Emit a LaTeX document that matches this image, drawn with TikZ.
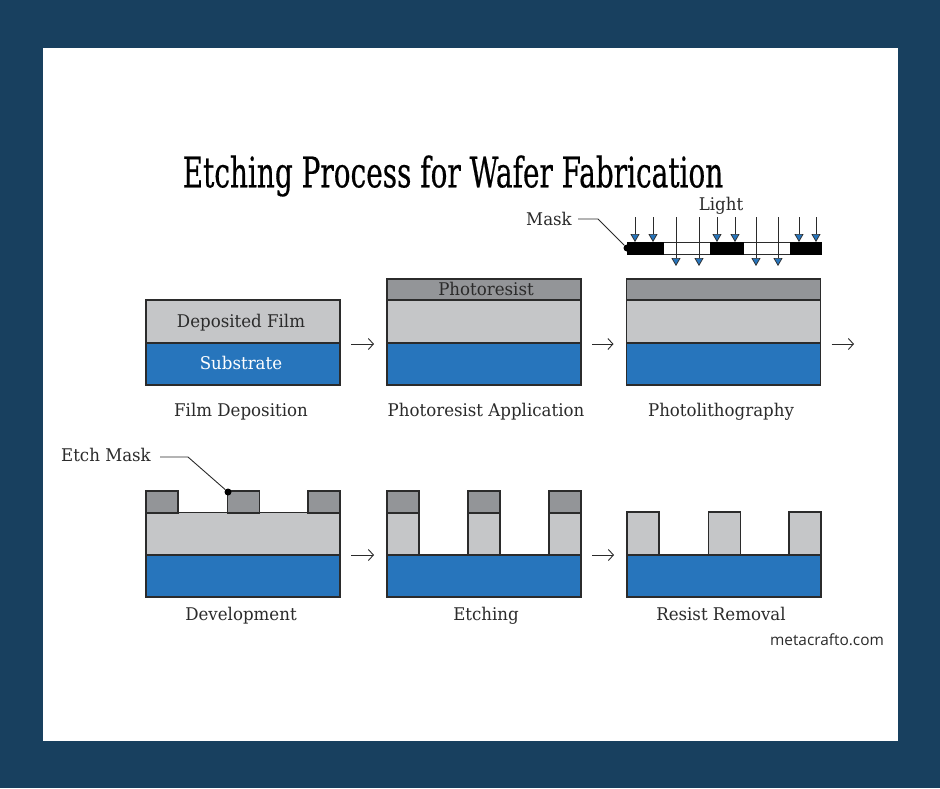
\documentclass[tikz,border=0pt]{standalone}
\usepackage{fontspec}
\setmainfont[FakeStretch=.95]{DejaVu Serif}
\newfontfamily\titlefont[FakeStretch=.665,FakeBold=.4]{DejaVu Serif}
\newfontfamily\webfont{Open Sans}
\usetikzlibrary{arrows.meta}
\definecolor{framenavy}{HTML}{18405F}
\definecolor{subblue}{HTML}{2775BC}
\definecolor{filmgrey}{HTML}{C5C6C8}
\definecolor{resistgrey}{HTML}{939598}
\definecolor{inkgrey}{HTML}{2B2B2B}
\tikzset{
	layerbox/.style={draw=inkgrey, line width=1.1pt, inner sep=0, outer sep=0, text=inkgrey, text height=13pt, text depth=2pt, font=\fontsize{17.5}{20}\selectfont},
	subbox/.style={layerbox, fill=subblue, minimum width=194, minimum height=42, text=white},
	filmbox/.style={layerbox, fill=filmgrey, minimum width=194, minimum height=43},
	resistbox/.style={layerbox, fill=resistgrey, minimum width=194, minimum height=21},
	resistcap/.style={layerbox, fill=resistgrey, minimum width=32, minimum height=22},
	filmpost/.style={layerbox, fill=filmgrey, minimum width=32, minimum height=43},
	maskbar/.style={draw=black, fill=black, inner sep=0, outer sep=0, minimum height=12},
	maskgap/.style={draw=inkgrey, line width=.8pt, fill=white, inner sep=0, outer sep=0, minimum height=12},
	steplabel/.style={text=inkgrey, text height=13pt, text depth=2pt, font=\fontsize{17.5}{20}\selectfont},
	nextarrow/.style={draw=inkgrey, line width=.9pt, -{Straight Barb[length=5pt, width=11pt]}, shorten <=11pt, shorten >=13pt},
	lightarrow/.style={draw=inkgrey, line width=.9pt, -{Triangle[length=8pt, width=9pt, line width=.7pt, fill=subblue]}},
	leader/.style={draw=inkgrey, line width=.9pt},
	leaderdot/.style={circle, fill=black, inner sep=0, minimum size=7},
}
\begin{document}
\begin{tikzpicture}[x=1pt, y=-1pt]
	\useasboundingbox (0, 0) rectangle (940, 788);
	\fill[framenavy] (0, 0) rectangle (940, 788);
	\fill[white] (43, 48) rectangle (898, 741);

	\node[text=black, font=\titlefont\fontsize{42}{48}\selectfont] (title) at(453, 176){Etching Process for Wafer Fabrication};

	% top row
	\node[filmbox] (filmA) at(243, 321.5){\kern-4pt Deposited Film};
	\node[subbox] (subA) at(243, 364){\kern-4pt Substrate};
	\node[steplabel] (labelA) at(241, 411){Film Deposition};

	\node[resistbox] (resistB) at(484, 289.5){\kern4pt Photoresist};
	\node[filmbox] (filmB) at(484, 321.5){};
	\node[subbox] (subB) at(484, 364){};
	\node[steplabel] (labelB) at(486, 411){Photoresist Application};

	\node[resistbox] (resistC) at(723.5, 289.5){};
	\node[filmbox] (filmC) at(723.5, 321.5){};
	\node[subbox] (subC) at(723.5, 364){};
	\node[steplabel] (labelC) at(721, 411){Photolithography};

	\coordinate (nextA) at(243, 344);
	\coordinate (nextB) at(484, 344);
	\coordinate (nextC) at(723.5, 344);
	\coordinate (outC) at(867, 344);
	\draw[nextarrow] (nextA -| subA.east) to (nextB -| subB.west);
	\draw[nextarrow] (nextB -| subB.east) to (nextC -| subC.west);
	\draw[nextarrow] (nextC -| subC.east) to (outC);

	% mask
	\node[maskgap, minimum width=47] (gapA) at(686.5, 248){};
	\node[maskgap, minimum width=47] (gapB) at(766.5, 248){};
	\node[maskbar, minimum width=36] (barA) at(645, 248){};
	\node[maskbar, minimum width=33] (barB) at(726.5, 248){};
	\node[maskbar, minimum width=31] (barC) at(805.5, 248){};
	\node[leaderdot] (maskdot) at(627, 248){};
	\node[steplabel] (masktext) at(549, 220){Mask};
	\node[steplabel] (lighttext) at(721, 205){Light};

	\coordinate (maskA) at(578, 219);
	\coordinate (maskB) at(598, 219);
	\draw[leader] (maskA) -- (maskB) -- (maskdot);

	\coordinate (rayA) at(635, 217);
	\coordinate (rayB) at(653, 217);
	\coordinate (rayC) at(676, 217);
	\coordinate (rayD) at(699, 217);
	\coordinate (rayE) at(717, 217);
	\coordinate (rayF) at(735, 217);
	\coordinate (rayG) at(756, 217);
	\coordinate (rayH) at(778, 217);
	\coordinate (rayI) at(799, 217);
	\coordinate (rayJ) at(816, 217);
	\coordinate (rayend) at(700, 266);
	\draw[lightarrow] (rayA) to (rayA |- barA.north);
	\draw[lightarrow] (rayB) to (rayB |- barA.north);
	\draw[lightarrow] (rayC) to (rayC |- rayend);
	\draw[lightarrow] (rayD) to (rayD |- rayend);
	\draw[lightarrow] (rayE) to (rayE |- barB.north);
	\draw[lightarrow] (rayF) to (rayF |- barB.north);
	\draw[lightarrow] (rayG) to (rayG |- rayend);
	\draw[lightarrow] (rayH) to (rayH |- rayend);
	\draw[lightarrow] (rayI) to (rayI |- barC.north);
	\draw[lightarrow] (rayJ) to (rayJ |- barC.north);

	% bottom row
	\node[filmbox] (filmD) at(243, 534){};
	\node[subbox] (subD) at(243, 576){};
	\node[resistcap] (capDa) at(162, 502){};
	\node[resistcap] (capDb) at(243.5, 502){};
	\node[resistcap] (capDc) at(324, 502){};
	\node[steplabel] (labelD) at(241, 615){Development};
	\node[leaderdot] (etchdot) at(228, 492){};
	\node[steplabel] (etchtext) at(106, 456){Etch Mask};
	\coordinate (etchA) at(160, 457);
	\coordinate (etchB) at(188, 457);
	\draw[leader] (etchA) -- (etchB) -- (etchdot);

	\node[filmpost] (postEa) at(403, 534){};
	\node[filmpost] (postEb) at(484, 534){};
	\node[filmpost] (postEc) at(565, 534){};
	\node[resistcap] (capEa) at(403, 502){};
	\node[resistcap] (capEb) at(484, 502){};
	\node[resistcap] (capEc) at(565, 502){};
	\node[subbox] (subE) at(484, 576){};
	\node[steplabel] (labelE) at(486, 615){Etching};

	\node[filmpost] (postFa) at(643, 533.5){};
	\node[filmpost] (postFb) at(724.5, 533.5){};
	\node[filmpost] (postFc) at(805, 533.5){};
	\node[subbox] (subF) at(724, 576){};
	\node[steplabel] (labelF) at(721, 615){Resist Removal};

	\coordinate (nextD) at(243, 555);
	\coordinate (nextE) at(484, 555);
	\coordinate (nextF) at(724, 555);
	\draw[nextarrow] (nextD -| subD.east) to (nextE -| subE.west);
	\draw[nextarrow] (nextE -| subE.east) to (nextF -| subF.west);

	\node[text=inkgrey, font=\webfont\fontsize{15.4}{18}\selectfont] (website) at(827, 640){metacrafto.com};
\end{tikzpicture}
\end{document}
